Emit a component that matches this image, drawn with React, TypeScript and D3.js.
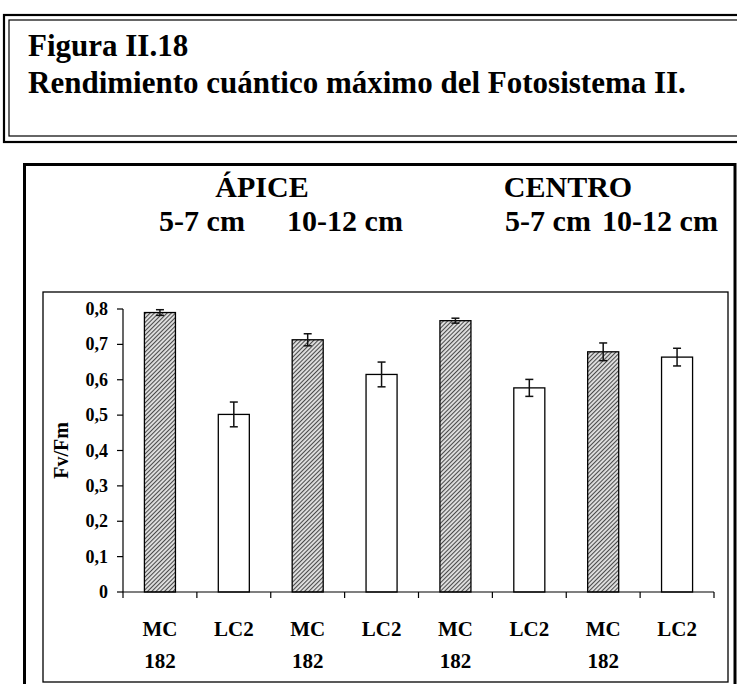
import React from "react";
import * as d3 from "d3";

const categories = ["c1", "c2", "c3", "c4", "c5", "c6", "c7", "c8"];
const labelTop = ["MC", "LC2", "MC", "LC2", "MC", "LC2", "MC", "LC2"];
const labelBottom = ["182", "", "182", "", "182", "", "182", ""];
const values = [0.79, 0.502, 0.713, 0.615, 0.767, 0.577, 0.679, 0.664];
const errors = [0.008, 0.035, 0.017, 0.035, 0.007, 0.024, 0.025, 0.025];
const hatched = [true, false, true, false, true, false, true, false];
const yTicks = [0, 0.1, 0.2, 0.3, 0.4, 0.5, 0.6, 0.7, 0.8];
const groupTitles = ["ÁPICE", "CENTRO"];
const subTitles = ["5-7 cm", "10-12 cm", "5-7 cm", "10-12 cm"];

const W = 737;
const H = 684;
const FONT = "'Liberation Serif', 'Times New Roman', serif";

export default function App() {
  const x = d3.scaleBand<string>().domain(categories).range([123, 714]).paddingInner(0.58).paddingOuter(0.29);
  const xb = d3.scaleBand<string>().domain(categories).range([123, 714]);
  const y = d3.scaleLinear().domain([0, 0.8]).range([592, 309]);
  const fmt = (v: number) => (v === 0 ? "0" : d3.format(".1f")(v).replace(".", ","));

  return (
    <svg width={W} height={H} style={{ position: "absolute", left: 0, top: 0, background: "#fff" }} fontFamily={FONT}>
      <defs>
        <pattern id="hatch" width="3" height="3" patternUnits="userSpaceOnUse" patternTransform="rotate(45)">
          <rect width="3" height="3" fill="#e0e0e0" />
          <line x1="0.5" y1="0" x2="0.5" y2="3" stroke="#4a4a4a" strokeWidth="1.1" />
        </pattern>
      </defs>
      <rect x={0} y={0} width={W} height={H} fill="#fff" />
      {/* header box */}
      <rect x={4} y={15} width={760} height={127} fill="none" stroke="#000" strokeWidth={2.2} />
      <rect x={9} y={20} width={760} height={116} fill="none" stroke="#000" strokeWidth={1.2} />
      <text x={28} y={56} fontSize={31} fontWeight="bold">Figura II.18</text>
      <text x={28} y={93} fontSize={31} fontWeight="bold">Rendimiento cuántico máximo del Fotosistema II.</text>

      {/* chart box */}
      <rect x={24.5} y={164.5} width={710.5} height={560} fill="none" stroke="#000" strokeWidth={3} />
      <rect x={43} y={292} width={685} height={390} fill="none" stroke="#000" strokeWidth={1.3} />

      {groupTitles.map((t, i) => (
        <text key={t} x={[262, 568][i]} y={197} fontSize={30} fontWeight="bold" textAnchor="middle">{t}</text>
      ))}
      {subTitles.map((t, i) => (
        <text key={i} x={[202, 345, 548, 660][i]} y={231} fontSize={30} fontWeight="bold" textAnchor="middle">{t}</text>
      ))}

      {/* bars */}
      {categories.map((c, i) => (
        <rect key={c} x={x(c)} y={y(values[i])} width={x.bandwidth()} height={y(0) - y(values[i])}
          fill={hatched[i] ? "url(#hatch)" : "#fff"} stroke="#000" strokeWidth={1.3} />
      ))}
      {/* error bars */}
      {categories.map((c, i) => {
        const cx = (x(c) as number) + x.bandwidth() / 2;
        const y1 = y(values[i] + errors[i]);
        const y2 = y(values[i] - errors[i]);
        return (
          <g key={c} stroke="#111" strokeWidth={1.5}>
            <line x1={cx} x2={cx} y1={y1} y2={y2} />
            <line x1={cx - 4} x2={cx + 4} y1={y1} y2={y1} />
            <line x1={cx - 4} x2={cx + 4} y1={y2} y2={y2} />
          </g>
        );
      })}

      {/* y axis */}
      <line x1={123} x2={123} y1={y(0.8)} y2={y(0)} stroke="#000" strokeWidth={1.2} />
      {yTicks.map((t) => (
        <g key={t}>
          <line x1={117} x2={123} y1={y(t)} y2={y(t)} stroke="#000" strokeWidth={1.2} />
          <text x={108} y={y(t) + 6} fontSize={18} fontWeight="bold" textAnchor="end">{fmt(t)}</text>
        </g>
      ))}
      <text transform={`translate(68,${y(0.4)}) rotate(-90)`} fontSize={20} fontWeight="bold" textAnchor="middle">Fv/Fm</text>

      {/* x axis */}
      <line x1={123} x2={714} y1={y(0)} y2={y(0)} stroke="#000" strokeWidth={1.2} />
      {categories.concat(["end"]).map((c, i) => {
        const px = i < categories.length ? (xb(c) as number) : 714;
        return <line key={c} x1={px} x2={px} y1={y(0)} y2={y(0) + 6} stroke="#000" strokeWidth={1.2} />;
      })}
      {categories.map((c, i) => {
        const cx = (xb(c) as number) + xb.bandwidth() / 2;
        return (
          <g key={c}>
            <text x={cx} y={636} fontSize={21} fontWeight="bold" textAnchor="middle">{labelTop[i]}</text>
            {labelBottom[i] && (
              <text x={cx} y={668} fontSize={21} fontWeight="bold" textAnchor="middle">{labelBottom[i]}</text>
            )}
          </g>
        );
      })}
    </svg>
  );
}
